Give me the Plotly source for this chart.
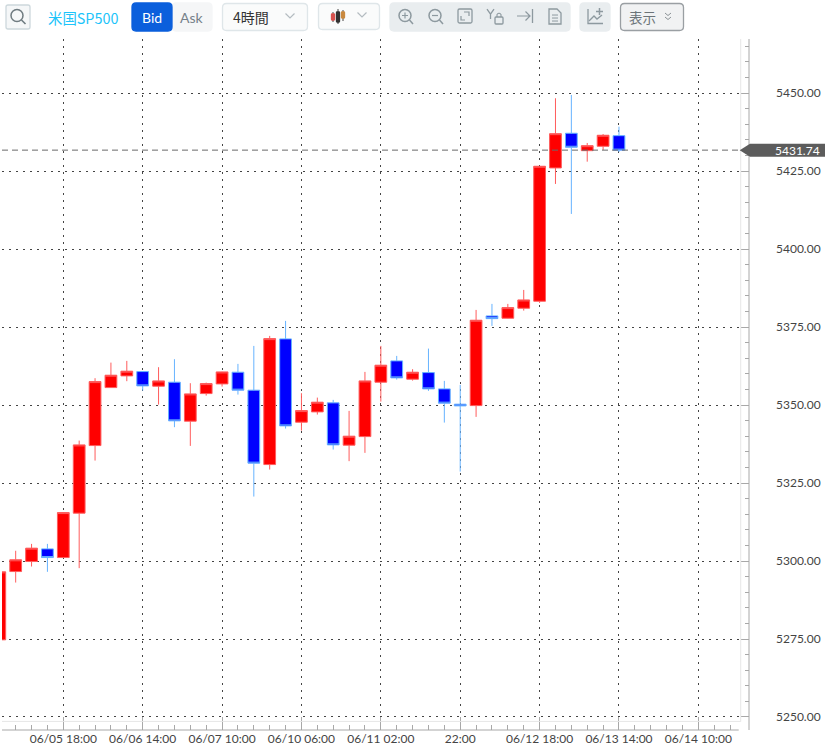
import plotly.graph_objects as go

# 4 hour candles
opens = [5274.74, 5296.63, 5299.84, 5303.90, 5301.12, 5315.35, 5337.02, 5355.61, 5359.36, 5360.74,
         5356.06, 5357.34, 5344.84, 5353.69, 5356.79, 5360.54, 5354.78, 5330.93, 5371.22, 5344.52,
         5347.82, 5350.71, 5337.15, 5339.90, 5357.34, 5364.17, 5358.30, 5360.42, 5355.19, 5350.29,
         5349.84, 5378.59, 5377.85, 5381.06, 5383.30, 5426.03, 5437.15, 5431.57, 5432.98, 5436.38]
highs = [5296.60, 5303.30, 5305.50, 5305.50, 5315.60, 5338.62, 5358.62, 5363.62, 5364.17, 5360.80,
         5362.15, 5364.71, 5357.02, 5357.20, 5360.70, 5363.21, 5368.97, 5372.18, 5376.99, 5353.81,
         5352.40, 5351.67, 5348.14, 5360.64, 5368.97, 5365.77, 5361.51, 5368.11, 5357.76, 5356.47,
         5380.51, 5382.44, 5382.44, 5386.92, 5426.60, 5448.37, 5449.42, 5434.04, 5436.90, 5439.26]
lows = [5274.70, 5293.10, 5298.24, 5296.54, 5301.10, 5297.72, 5332.21, 5355.60, 5357.66, 5354.65,
        5350.16, 5342.92, 5336.92, 5353.04, 5355.93, 5353.37, 5320.67, 5329.33, 5342.47, 5341.83,
        5346.96, 5335.74, 5332.02, 5334.68, 5351.12, 5358.17, 5357.85, 5354.55, 5344.39, 5328.69,
        5346.22, 5375.38, 5377.80, 5380.29, 5382.76, 5420.90, 5411.28, 5428.04, 5431.80, 5431.15]
closes = [5296.54, 5300.40, 5304.13, 5301.12, 5315.54, 5337.24, 5357.53, 5359.58, 5360.87, 5356.15,
          5357.76, 5344.94, 5353.59, 5356.89, 5360.64, 5354.78, 5331.38, 5371.31, 5343.33, 5348.24,
          5350.93, 5337.24, 5340.03, 5357.76, 5362.79, 5358.72, 5360.54, 5355.19, 5350.61, 5349.74,
          5377.21, 5377.72, 5381.25, 5383.72, 5426.57, 5437.02, 5432.66, 5433.17, 5436.51, 5431.74]
bar_index = list(range(len(closes)))

tick_index = [4, 9, 14, 19, 24, 29, 34, 39, 44]
tick_labels = ["06/05 18:00", "06/06 14:00", "06/07 10:00", "06/10 06:00", "06/11 02:00",
               "22:00", "06/12 18:00", "06/13 14:00", "06/14 10:00"]
last_price = closes[-1]

W, H = 828, 750
LEFT, RIGHT, TOP, BOTTOM = 2, 749.3, 39, 730.3
AXIS_GREY = "#a8a8a8"
ICON_GREY = "#8d999f"


def px(x):
    return (x - LEFT) / (RIGHT - LEFT)


def py(y):
    return (BOTTOM - y) / (BOTTOM - TOP)


shapes = []
annotations = []


# toolbar parts are given in page pixels, y going down
def box(x0, y0, x1, y1, fill, line=None, r=4):
    d = (f"M {x0+r} {y0} L {x1-r} {y0} Q {x1} {y0} {x1} {y0+r} L {x1} {y1-r} Q {x1} {y1} {x1-r} {y1} "
         f"L {x0+r} {y1} Q {x0} {y1} {x0} {y1-r} L {x0} {y0+r} Q {x0} {y0} {x0+r} {y0} Z")
    add_path(d, line or fill, fill=fill)


def add_path(d, color, width=1.3, fill=None):
    out = []
    is_y = False
    for tok in d.split():
        if tok.isalpha():
            out.append(tok)
            is_y = False
        else:
            out.append(str(-float(tok)) if is_y else tok)
            is_y = not is_y
    shapes.append(dict(type="path", xref="paper", yref="paper", xsizemode="pixel", ysizemode="pixel",
                       xanchor=px(0), yanchor=py(0), path=" ".join(out),
                       line=dict(color=color, width=width), fillcolor=fill or "rgba(0,0,0,0)"))


def ring(cx, cy, r, color, width=1.5):
    k = 0.55 * r
    add_path(f"M {cx-r} {cy} C {cx-r} {cy-k} {cx-k} {cy-r} {cx} {cy-r} C {cx+k} {cy-r} {cx+r} {cy-k} {cx+r} {cy} "
             f"C {cx+r} {cy+k} {cx+k} {cy+r} {cx} {cy+r} C {cx-k} {cy+r} {cx-r} {cy+k} {cx-r} {cy} Z", color, width)


def label(x, y, text, color, size=14, font="Lato", anchor="center"):
    annotations.append(dict(x=px(x), y=py(y), xref="paper", yref="paper", text=text, showarrow=False,
                            xanchor=anchor, yanchor="middle", font=dict(family=font, size=size, color=color)))


def chevron(cx, cy, color="#b4bcc1"):
    add_path(f"M {cx-4.5} {cy-2.5} L {cx} {cy+2} L {cx+4.5} {cy-2.5}", color, 1.2)


# search
box(6, 5, 30, 29, "#f5f7f8", "#cdd8dc", 2)
ring(17, 15.5, 6, "#6f7b80")
add_path("M 21.5 20 L 25.5 24", "#6f7b80", 1.6)
label(83.5, 17, "米国SP500", "#1cc4fa", 14.4, "Noto Sans CJK JP")

# bid / ask
box(172, 3, 212, 31, "#f5f6f7")
box(132, 3, 172, 31, "#0b5fdc")
label(152, 17, "Bid", "#ffffff")
label(192, 17, "Ask", "#75818a")

# timeframe and chart type
box(222.5, 3.5, 307.5, 30.5, "#fafbfb", "#dfe6e9")
label(251.5, 17, "4時間", "#333333", 14, "Noto Sans CJK JP")
chevron(290, 16)
box(318.5, 3.5, 379.5, 29.5, "#fafbfb", "#dfe6e9")
for cx, y0, y1, top, bot, col in [(333, 12, 22, 14, 20, "#d9534f"), (338, 9, 24, 12, 22, "#333333"),
                                  (343, 10, 21, 12, 18, "#c9893f")]:
    add_path(f"M {cx} {y0} L {cx} {y1}", "#444444", 1)
    box(cx - 1.5, top, cx + 1.5, bot, col, col, 0.5)
chevron(362, 15)

# zoom, fit, lock, jump, doc group
box(390, 3, 570, 31, "#e9edef")
ring(405, 15.5, 6, ICON_GREY)
add_path("M 409.5 20 L 413 24", ICON_GREY, 1.5)
add_path("M 402 15.5 L 408 15.5 M 405 12.5 L 405 18.5", ICON_GREY, 1.2)
ring(435, 15.5, 6, ICON_GREY)
add_path("M 439.5 20 L 443 24", ICON_GREY, 1.5)
add_path("M 432 15.5 L 438 15.5", ICON_GREY, 1.2)
box(458, 9, 472, 23, "#e9edef", ICON_GREY, 1.5)
add_path("M 464 12 L 469 12 L 469 16 M 461 16 L 461 20 L 465 20", ICON_GREY, 1.2)
add_path("M 487 9 L 490.5 14 L 494 9 M 490.5 14 L 490.5 19", ICON_GREY, 1.3)
box(495, 17, 503, 24, "#e9edef", ICON_GREY, 1)
add_path("M 497 17 L 497 14.5 Q 499 12 501 14.5 L 501 17", ICON_GREY, 1.1)
add_path("M 517 16 L 530 16 M 525.5 11.5 L 530 16 L 525.5 20.5", ICON_GREY, 1.2)
add_path("M 532.5 9 L 532.5 23", ICON_GREY, 1.3)
add_path("M 549 9 L 557 9 L 561 13 L 561 24 L 549 24 Z", ICON_GREY, 1.3)
add_path("M 552 15 L 558 15 M 552 18 L 558 18 M 552 21 L 558 21", ICON_GREY, 1)

# add indicator
box(580, 3, 610, 31, "#e9edef")
add_path("M 588 9 L 588 23.5 L 603 23.5", ICON_GREY, 1.3)
add_path("M 589 21 L 594 16 L 597 19 L 602 15", ICON_GREY, 1.3)
add_path("M 596 11.5 L 603 11.5 M 599.5 8 L 599.5 15", ICON_GREY, 1.5)

# display
box(620.5, 3.5, 683.5, 30.5, "#f1f2f3", "#9a9fa3")
label(643, 17, "表示", "#6c7478", 13.5, "Noto Sans CJK JP")
add_path("M 665 13 L 668 15.5 L 671 13 M 665 17 L 668 19.5 L 671 17", "#8b9296", 1)

# thin inner frame lines of the plot
shapes.append(dict(type="line", xref="paper", yref="paper", x0=px(741), x1=px(741), y0=py(722), y1=py(39),
                   line=dict(color="#e6e6e6", width=1)))
shapes.append(dict(type="line", xref="paper", yref="paper", x0=px(2), x1=px(741), y0=py(721.7), y1=py(721.7),
                   line=dict(color="#e6e6e6", width=1)))
shapes.append(dict(type="line", xref="paper", yref="paper", x0=0, x1=px(739), y0=0, y1=0,
                   line=dict(color=AXIS_GREY, width=1)))
shapes.append(dict(type="line", xref="paper", yref="paper", x0=1, x1=1, y0=0, y1=1,
                   line=dict(color=AXIS_GREY, width=1)))

# current price line and tag
shapes.append(dict(type="line", xref="paper", yref="y", x0=0, x1=px(741), y0=last_price, y1=last_price,
                   line=dict(color="#6a6a6a", width=1, dash="6px,4px")))
shapes.append(dict(type="path", xref="paper", yref="y", xsizemode="pixel", ysizemode="pixel",
                   xanchor=1, yanchor=last_price, path="M -9.3 0 L 1 -6.5 L 76 -6.5 L 76 6.5 L 1 6.5 Z",
                   line=dict(width=0), fillcolor="#5c5c5c"))
annotations.append(dict(x=px(798), y=last_price, xref="paper", yref="y", text=f"{last_price:.2f}", showarrow=False,
                        xanchor="center", yanchor="middle", font=dict(family="Lato", size=12, color="#ffffff")))

fig = go.Figure(go.Candlestick(
    x=bar_index, open=opens, high=highs, low=lows, close=closes,
    increasing=dict(line=dict(color="#ff5c5c", width=1), fillcolor="#ff0000"),
    decreasing=dict(line=dict(color="#66b3ff", width=1), fillcolor="#0000ff"),
    whiskerwidth=0, showlegend=False, hoverinfo="skip"))

fig.update_layout(
    width=W, height=H,
    margin=dict(l=LEFT, r=W - RIGHT, t=TOP, b=H - BOTTOM, autoexpand=False),
    paper_bgcolor="white", plot_bgcolor="white",
    boxgap=0.26, boxgroupgap=0,
    font=dict(family="Lato", size=12, color="#444444"),
    xaxis=dict(range=[0.1385, 47.19], rangeslider=dict(visible=False), tickmode="array",
               tickvals=tick_index, ticktext=tick_labels, ticks="inside", ticklen=13, tickwidth=1,
               tickcolor=AXIS_GREY, showline=False, zeroline=False, showgrid=True, gridcolor="#444444",
               griddash="2px,5px", gridwidth=1, tickfont=dict(family="Lato", size=12, color="#444444"),
               minor=dict(tickmode="array", tickvals=[i for i in range(1, 47) if i not in tick_index],
                          ticks="inside", ticklen=5, tickcolor=AXIS_GREY, tickwidth=1, showgrid=False)),
    yaxis=dict(range=[5245.83, 5467.37], side="right", tick0=5250, dtick=25, tickformat=".2f", ticks="inside",
               ticklen=8, tickwidth=1, tickcolor=AXIS_GREY, showline=False, zeroline=False, showgrid=True,
               gridcolor="#444444", griddash="2px,5px", gridwidth=1, ticklabelstandoff=26,
               tickfont=dict(family="Lato", size=12, color="#444444"),
               minor=dict(dtick=5, tick0=5250, ticks="inside", ticklen=4, tickcolor=AXIS_GREY, tickwidth=1,
                          showgrid=False)),
    shapes=shapes, annotations=annotations)

fig.write_html("out.html", config=dict(displayModeBar=False),
               post_script="document.body.style.margin='0';")
